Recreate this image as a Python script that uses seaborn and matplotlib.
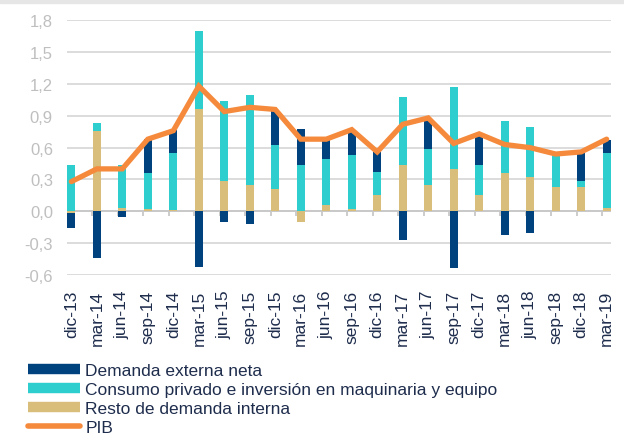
import numpy as np
import pandas as pd
import seaborn as sns
import matplotlib.pyplot as plt
from matplotlib.lines import Line2D
from matplotlib.patches import Rectangle

quarters = ['dic-13', 'mar-14', 'jun-14', 'sep-14', 'dic-14', 'mar-15', 'jun-15', 'sep-15',
            'dic-15', 'mar-16', 'jun-16', 'sep-16', 'dic-16', 'mar-17', 'jun-17', 'sep-17',
            'dic-17', 'mar-18', 'jun-18', 'sep-18', 'dic-18', 'mar-19']

# contribuciones al crecimiento (pp)
externa = [-0.14, -0.44, -0.05, 0.315, 0.22, -0.52, -0.10, -0.12, 0.33, 0.34, 0.19,
           0.235, 0.19, -0.27, 0.28, -0.53, 0.28, -0.22, -0.20, 0.0, 0.27, 0.12]
consumo = [0.44, 0.08, 0.41, 0.345, 0.535, 0.73, 0.75, 0.845, 0.41, 0.44, 0.43,
           0.515, 0.21, 0.635, 0.34, 0.77, 0.28, 0.485, 0.47, 0.30, 0.057, 0.52]
resto = [-0.02, 0.755, 0.03, 0.02, 0.01, 0.965, 0.29, 0.25, 0.215, -0.10, 0.063,
         0.02, 0.157, 0.44, 0.25, 0.40, 0.157, 0.365, 0.324, 0.233, 0.233, 0.03]
pib = [0.28, 0.40, 0.40, 0.68, 0.76, 1.18, 0.94, 0.98, 0.96, 0.68, 0.68,
       0.77, 0.56, 0.82, 0.88, 0.64, 0.73, 0.63, 0.60, 0.54, 0.56, 0.68]
yticks = [-0.6, -0.3, 0.0, 0.3, 0.6, 0.9, 1.2, 1.5, 1.8]

labels = ['Demanda externa neta',
          'Consumo privado e inversión en maquinaria y equipo',
          'Resto de demanda interna',
          'PIB']
colors = {'externa': '#00427E', 'consumo': '#2ECECE', 'resto': '#D8BE7A', 'pib': '#F58A3C'}

sns.set_theme(style='white')
plt.rcParams['font.family'] = ['Liberation Sans', 'DejaVu Sans']

fig = plt.figure(figsize=(6.24, 4.35), dpi=100)
ax = fig.add_axes([0.107, 0.3655, 0.8717, 0.5855])
fig.patches.append(Rectangle((0, 1 - 4 / 435), 1, 4 / 435, transform=fig.transFigure,
                             color='#E6E6E6', zorder=0))

x = np.arange(len(quarters))
width = 0.31

# stacking: positive values above 0, negative below
pos_bottom = np.zeros(len(x))
neg_bottom = np.zeros(len(x))
for key, vals in [('resto', resto), ('consumo', consumo), ('externa', externa)]:
    vals = np.array(vals)
    bottom = np.where(vals >= 0, pos_bottom, neg_bottom)
    ax.bar(x, vals, width, bottom=bottom, color=colors[key], linewidth=0, zorder=2)
    pos_bottom = pos_bottom + np.where(vals >= 0, vals, 0)
    neg_bottom = neg_bottom + np.where(vals < 0, vals, 0)

df = pd.DataFrame({'x': x, 'PIB': pib})
sns.lineplot(data=df, x='x', y='PIB', ax=ax, color=colors['pib'], linewidth=3.8,
             solid_joinstyle='miter', zorder=3)

ax.set_ylim(-0.6, 1.8)
ax.set_xlim(-0.18, 21.16)
ax.set_yticks(yticks)
ax.set_yticklabels([('%.1f' % v).replace('.', ',') for v in yticks], fontsize=12, color='#BFBFBF')
ax.yaxis.grid(True, color='#D9D9D9', linewidth=1.3, zorder=0)
ax.set_axisbelow(True)
ax.axhline(0, color='#C8C8C8', linewidth=1.3, zorder=1)
ax.vlines(x - 0.18, -0.04, 0, color='#C8C8C8', linewidth=1.3, zorder=1)

ax.set_xticks(x)
ax.set_xticklabels(quarters, rotation=90, fontsize=12.5, color='#1F2D4D')
ax.tick_params(axis='x', length=0, pad=10.5)
ax.tick_params(axis='y', length=0, pad=10)
ax.set_xlabel('')
ax.set_ylabel('')
for s in ax.spines.values():
    s.set_visible(False)

handles = [Line2D([0], [0], color=colors['externa'], lw=7.5, solid_capstyle='butt'),
           Line2D([0], [0], color=colors['consumo'], lw=7.5, solid_capstyle='butt'),
           Line2D([0], [0], color=colors['resto'], lw=7.5, solid_capstyle='butt'),
           Line2D([0], [0], color=colors['pib'], lw=4, solid_capstyle='round')]
leg = fig.legend(handles, labels, loc='upper left', bbox_to_anchor=(0.045, 0.164),
                 frameon=False, fontsize=12.5, handlelength=3.0, handletextpad=0.3,
                 labelspacing=0.22, borderpad=0, borderaxespad=0)
for t in leg.get_texts():
    t.set_color('#1F2D4D')

fig.savefig('out.png', dpi=100)
